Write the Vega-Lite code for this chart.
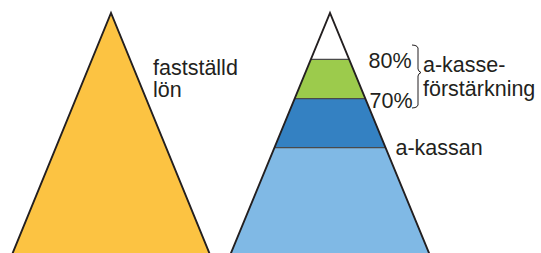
{
  "$schema": "https://vega.github.io/schema/vega-lite/v6.json",
  "width": 541,
  "height": 253,
  "padding": 0,
  "autosize": {"type": "fit", "contains": "padding"},
  "background": "white",
  "config": {"view": {"stroke": null}},
  "datasets": {
    "shapes": [
      {"shape": "L", "h": -5, "xl": 10.65, "xr": 211.35},
      {"shape": "L", "h": 240, "xl": 111, "xr": 111},
      {"shape": "W", "h": 193.7, "xl": 310.9, "xr": 349.1},
      {"shape": "W", "h": 240, "xl": 330, "xr": 330},
      {"shape": "G", "h": 154.3, "xl": 294.65, "xr": 365.35},
      {"shape": "G", "h": 193.7, "xl": 310.9, "xr": 349.1},
      {"shape": "D", "h": 105.3, "xl": 274.44, "xr": 385.56},
      {"shape": "D", "h": 154.3, "xl": 294.65, "xr": 365.35},
      {"shape": "B", "h": -5, "xl": 228.94, "xr": 431.06},
      {"shape": "B", "h": 105.3, "xl": 274.44, "xr": 385.56}
    ],
    "seps": [
      {"id": "s1", "o": 1, "x": 310.9, "h": 193.7},
      {"id": "s1", "o": 2, "x": 349.1, "h": 193.7},
      {"id": "s2", "o": 1, "x": 294.65, "h": 154.3},
      {"id": "s2", "o": 2, "x": 365.35, "h": 154.3},
      {"id": "s3", "o": 1, "x": 274.44, "h": 105.3},
      {"id": "s3", "o": 2, "x": 385.56, "h": 105.3}
    ],
    "outlines": [
      {"id": "tl", "o": 1, "x": 10.65, "h": -5},
      {"id": "tl", "o": 2, "x": 111, "h": 240},
      {"id": "tl", "o": 3, "x": 211.35, "h": -5},
      {"id": "tr", "o": 1, "x": 228.94, "h": -5},
      {"id": "tr", "o": 2, "x": 330, "h": 240},
      {"id": "tr", "o": 3, "x": 431.06, "h": -5}
    ],
    "brace": [
      {"id": "b", "o": 1, "x": 412, "h": 208},
      {"id": "b", "o": 2, "x": 415, "h": 207.6},
      {"id": "b", "o": 3, "x": 417, "h": 206.6},
      {"id": "b", "o": 4, "x": 418, "h": 205},
      {"id": "b", "o": 5, "x": 418, "h": 184},
      {"id": "b", "o": 6, "x": 419, "h": 181.8},
      {"id": "b", "o": 7, "x": 421, "h": 180.5},
      {"id": "b", "o": 8, "x": 419, "h": 179.2},
      {"id": "b", "o": 9, "x": 418, "h": 177},
      {"id": "b", "o": 10, "x": 418, "h": 148},
      {"id": "b", "o": 11, "x": 417, "h": 146.4},
      {"id": "b", "o": 12, "x": 415, "h": 145.4},
      {"id": "b", "o": 13, "x": 412, "h": 145}
    ],
    "labels": [
      {"t": "fastställd", "x": 153, "h": 178},
      {"t": "lön", "x": 153, "h": 156.3},
      {"t": "80%", "x": 368.5, "h": 184.7},
      {"t": "70%", "x": 369.5, "h": 145},
      {"t": "a-kasse-", "x": 423, "h": 181.3},
      {"t": "förstärkning", "x": 423, "h": 157.5},
      {"t": "a-kassan", "x": 395.5, "h": 98}
    ]
  },
  "layer": [
    {
      "data": {"name": "shapes"},
      "mark": {"type": "area", "orient": "horizontal", "clip": true},
      "encoding": {
        "y": {"field": "h", "type": "quantitative", "scale": {"domain": [0, 253], "nice": false, "zero": false}, "axis": null},
        "x": {"field": "xl", "type": "quantitative", "scale": {"domain": [0, 541], "nice": false, "zero": false}, "axis": null},
        "x2": {"field": "xr"},
        "color": {"field": "shape", "type": "nominal", "legend": null,
          "scale": {"domain": ["L", "W", "G", "D", "B"], "range": ["#FCC342", "#FFFFFF", "#9CCB4C", "#3481C2", "#80B9E5"]}}
      }
    },
    {
      "data": {"name": "seps"},
      "mark": {"type": "line", "color": "#4a4a4a", "strokeWidth": 1.2, "clip": true},
      "encoding": {
        "x": {"field": "x", "type": "quantitative"},
        "y": {"field": "h", "type": "quantitative"},
        "detail": {"field": "id"},
        "order": {"field": "o"}
      }
    },
    {
      "data": {"name": "outlines"},
      "mark": {"type": "line", "color": "#231f20", "strokeWidth": 1.9, "clip": true, "strokeJoin": "miter", "strokeMiterLimit": 20},
      "encoding": {
        "x": {"field": "x", "type": "quantitative"},
        "y": {"field": "h", "type": "quantitative"},
        "detail": {"field": "id"},
        "order": {"field": "o"}
      }
    },
    {
      "data": {"name": "brace"},
      "mark": {"type": "line", "color": "#231f20", "strokeWidth": 1, "clip": true},
      "encoding": {
        "x": {"field": "x", "type": "quantitative"},
        "y": {"field": "h", "type": "quantitative"},
        "detail": {"field": "id"},
        "order": {"field": "o"}
      }
    },
    {
      "data": {"name": "labels"},
      "mark": {"type": "text", "align": "left", "baseline": "alphabetic", "font": "Liberation Sans", "fontSize": 21.5, "color": "#231f20"},
      "encoding": {
        "x": {"field": "x", "type": "quantitative"},
        "y": {"field": "h", "type": "quantitative"},
        "text": {"field": "t"}
      }
    }
  ]
}
